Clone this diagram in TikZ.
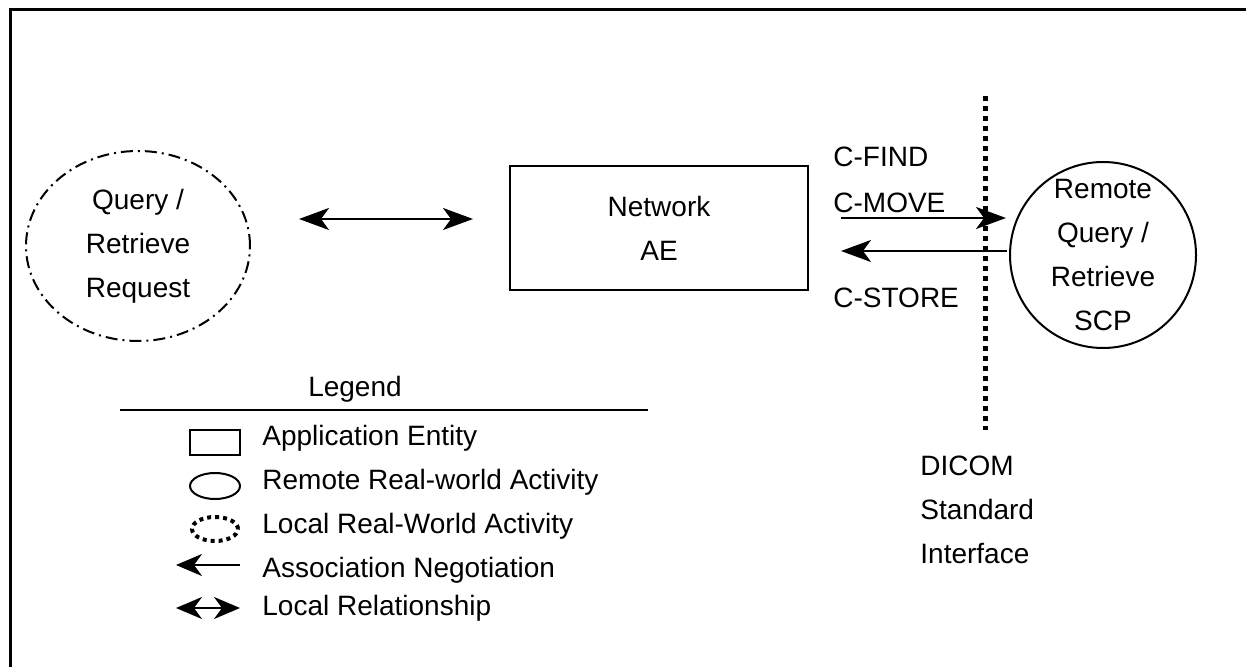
\documentclass[tikz,border=0pt]{standalone}
\usepackage{fontspec}
\setmainfont{Liberation Sans}
\usetikzlibrary{positioning, arrows.meta, shapes.geometric}

\tikzset{
    txt/.style={font=\fontsize{14}{22}\selectfont, inner sep=0pt, align=center},
    ltxt/.style={txt, anchor=west, align=left},
    entity/.style={draw, line width=1pt, rectangle, inner sep=0pt},
    activity/.style={draw, line width=1pt, ellipse, inner sep=0pt},
    localact/.style={activity, dash pattern=on 6pt off 2.5pt on 1pt off 2.5pt},
    msg/.style={line width=1pt, -{Stealth[length=15pt, width=11pt, inset=4pt]}},
    rel/.style={line width=1pt, {Stealth[length=15pt, width=11pt, inset=4pt]}-{Stealth[length=15pt, width=11pt, inset=4pt]}},
    lmsg/.style={line width=1pt, -{Stealth[length=13pt, width=11pt, inset=4pt]}},
    lrel/.style={line width=1pt, {Stealth[length=13pt, width=11pt, inset=4pt]}-{Stealth[length=13pt, width=11pt, inset=4pt]}},
    iface/.style={line width=2.5pt, dash pattern=on 2.5pt off 2.5pt}
}

\begin{document}
\begin{tikzpicture}[x=0.5pt, y=-0.5pt]
    \useasboundingbox (0,0) rectangle (1246,667);
    \draw[line width=1.5pt] (10,667) -- (10,10) -- (1246,10);

    \node[localact, minimum width=112pt, minimum height=95pt, txt] (qr) at (138,246) {Query /\\Retrieve\\Request};
    \node[entity, minimum width=149pt, minimum height=62pt, txt] (net) at (659,228) {Network\\AE};
    \node[activity, circle, minimum size=93pt, txt] (scp) at (1103,255) {Remote\\Query /\\Retrieve\\SCP};

    \draw[rel] ([shift={(48,-27)}]qr.east) -- ([shift={(-36,-9)}]net.west);

    \node[ltxt] (find) at (833,157) {C-FIND};
    \node[ltxt] (move) at (833,203) {C-MOVE};
    \node[ltxt] (store) at (833,298) {C-STORE};
    \draw[msg] ([shift={(32,-10)}]net.east) -- ([shift={(-3,-37)}]scp.west);
    \draw[msg] ([shift={(-2,-4)}]scp.west) -- ([shift={(32,23)}]net.east);

    \coordinate (itop) at (985,96);
    \coordinate (ibot) at (985,430);
    \draw[iface] (itop) -- (ibot);
    \node[ltxt] (dicom) at (920,510) {DICOM\\Standard\\Interface};

    % legend
    \node[txt] (leg) at (355,389) {Legend};
    \coordinate (ll) at (120,410);
    \coordinate (lr) at (648,410);
    \draw[line width=1pt] (ll) -- (lr);

    \node[entity, minimum width=25pt, minimum height=12.5pt] (k1) at (215,443) {};
    \node[activity, minimum width=25pt, minimum height=13pt] (k2) at (215,486) {};
    \node[activity, line width=2pt, dash pattern=on 2pt off 2pt, minimum width=23pt, minimum height=12pt] (k3) at (215,529) {};
    \coordinate (k4a) at (240,565);
    \coordinate (k4b) at (176,565);
    \coordinate (k5a) at (176,608);
    \coordinate (k5b) at (240,608);
    \draw[lmsg] (k4a) -- (k4b);
    \draw[lrel] (k5a) -- (k5b);

    \node[ltxt] (t1) at (262,438) {Application Entity};
    \node[ltxt] (t2) at (262,482) {Remote Real-world Activity};
    \node[ltxt] (t3) at (262,526) {Local Real-World Activity};
    \node[ltxt] (t4) at (262,570) {Association Negotiation};
    \node[ltxt] (t5) at (262,608) {Local Relationship};
\end{tikzpicture}
\end{document}
